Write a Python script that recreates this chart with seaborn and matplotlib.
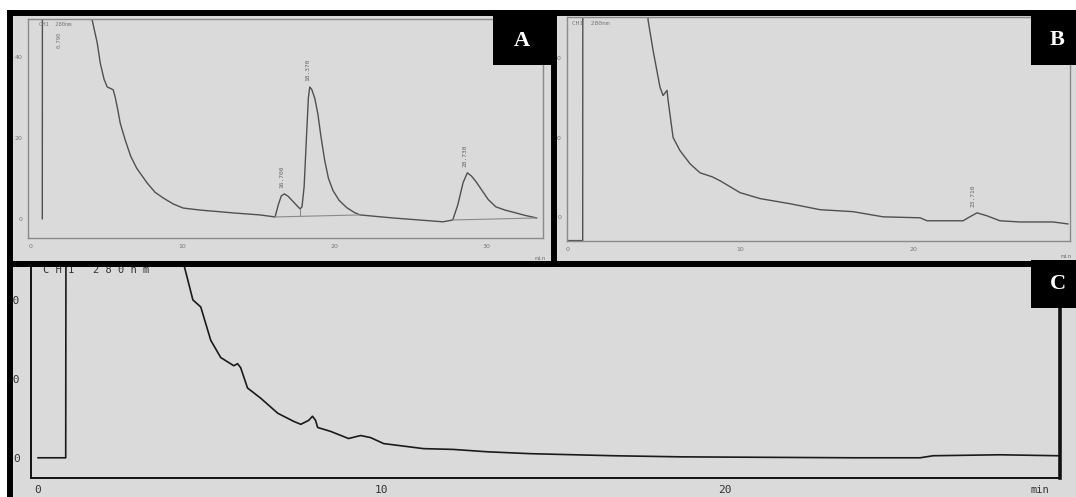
import matplotlib
matplotlib.use("Agg")
import matplotlib.pyplot as plt
from matplotlib.patches import Rectangle
from matplotlib.lines import Line2D
import seaborn as sns

# ---- chromatogram traces (time in min, detector signal) ----
a_time = [0.79, 0.80, 3.9, 4.07, 4.40, 4.60, 4.85, 5.06, 5.30, 5.45, 5.58, 5.75, 5.91,
          6.24, 6.60, 7.00, 7.68, 8.20, 8.73, 9.40, 10.05, 11.16, 13.33, 15.10,
          16.09, 16.30, 16.50, 16.70, 16.95, 17.30, 17.60, 17.73,
          17.86, 18.00, 18.15, 18.28, 18.37, 18.50, 18.70, 18.90, 19.10, 19.35, 19.60,
          19.90, 20.30, 20.80, 21.30, 21.67, 23.83, 27.12,
          27.77, 28.10, 28.45, 28.73, 29.00, 29.30, 29.70, 30.10, 30.60, 31.20, 31.71,
          32.50, 33.29]
a_signal = [0.0, 80.0, 80.0, 49.1, 43.5, 38.5, 34.5, 32.6, 32.2, 31.9, 30.1, 27.0, 23.7,
            19.5, 15.5, 12.5, 8.9, 6.6, 5.2, 3.7, 2.7, 2.2, 1.5, 1.0,
            0.5, 3.5, 5.7, 6.2, 5.6, 4.2, 3.0, 2.5,
            3.0, 8.0, 20.0, 30.0, 32.6, 32.0, 29.8, 26.0, 20.5, 14.5, 10.0,
            7.0, 4.6, 2.8, 1.6, 1.0, 0.25, -0.7,
            -0.25, 3.5, 9.0, 11.4, 10.6, 9.2, 7.0, 4.8, 3.0, 2.2, 1.7,
            0.9, 0.25]
# integration baselines drawn under the resolved peaks
a_base1_time = [16.09, 21.67]
a_base1_signal = [0.5, 1.0]
a_base2_time = [27.77, 33.29]
a_base2_signal = [-0.25, 0.25]
a_drop_time = [17.73, 17.73]
a_drop_signal = [2.5, 0.7]
a_peak_times = [16.70, 18.37, 28.73]
a_peak_heights = [6.2, 32.6, 11.4]
a_solvent_time = 0.79

b_time = [0.0, 0.85, 0.86, 4.5, 4.64, 4.93, 5.33, 5.51, 5.74, 5.80, 6.09, 6.49, 7.07,
          7.65, 8.35, 8.81, 9.97, 11.13, 12.87, 14.61, 16.52, 18.26, 20.41, 20.81,
          22.90, 23.19, 23.71, 24.29, 25.04, 26.20, 28.12, 28.99]
b_signal = [-6.0, -6.0, 80.0, 80.0, 49.6, 42.0, 32.7, 30.6, 31.9, 29.4, 20.0, 16.7, 13.4,
            11.1, 10.1, 9.1, 6.1, 4.6, 3.3, 1.8, 1.3, 0.0, -0.25, -1.0,
            -1.0, -0.25, 1.0, 0.25, -1.0, -1.3, -1.3, -1.8]
b_peak_times = [23.71]
b_peak_heights = [1.0]

c_time = [0.0, 0.81, 0.82, 4.1, 4.24, 4.51, 4.74, 5.03, 5.32, 5.70, 5.81, 5.90, 6.10,
          6.48, 6.98, 7.44, 7.65, 7.88, 7.99, 8.08, 8.14, 8.52, 9.04, 9.39, 9.68,
          10.06, 11.22, 12.09, 13.08, 14.33, 16.74, 18.69, 23.72, 25.67, 26.05,
          27.99, 29.68]
c_signal = [0.0, 0.0, 200.0, 200.0, 123.0, 100.0, 95.5, 74.4, 63.5, 58.3, 59.6, 57.1, 44.2,
            37.8, 28.2, 23.1, 21.2, 23.7, 26.3, 23.7, 19.2, 16.7, 12.2, 14.1, 12.8,
            9.0, 5.8, 5.3, 3.8, 2.6, 1.3, 0.6, 0.0, 0.0, 1.3,
            1.9, 1.3]

ab_xticks = [0, 10, 20, 30]
ab_yticks = [0, 20, 40]
c_xticks = [0, 10, 20]
c_yticks = [0, 50, 100]
channel_label = "CH1  280nm"
channel_label_wide = "C H 1   2 8 0 n m"
panel_letters = ["A", "B", "C"]

# ---- figure in pixel units ----
W, H = 1076, 497
sns.set_theme(style="white")
plt.rcParams["font.family"] = ["DejaVu Sans"]
fig = plt.figure(figsize=(W / 100, H / 100), dpi=100, facecolor="white")


def frac(l, t, r, b):
    return [l / W, 1 - b / H, (r - l) / W, (b - t) / H]


def fx(x):
    return x / W


def fy(y):
    return 1 - y / H


PAPER = "#dadada"
fig.add_artist(Rectangle((fx(7), fy(497)), fx(1076 - 7), fy(10) - fy(497),
                         transform=fig.transFigure, facecolor=PAPER,
                         edgecolor="none", zorder=-10))

mono = ["DejaVu Sans Mono"]


def style_small(ax, xt, yt, xlim, ylim):
    ax.set_facecolor("none")
    ax.set_xlim(*xlim)
    ax.set_ylim(*ylim)
    ax.set_xticks(xt)
    ax.set_yticks(yt)
    ax.tick_params(axis="both", length=2, width=0.6, colors="#777777",
                   labelsize=4.5, labelcolor="#777777", pad=2)
    for s in ax.spines.values():
        s.set_visible(True)
        s.set_color("#8a8a8a")
        s.set_linewidth(1.0)
    ax.set_xlabel("")
    ax.set_ylabel("")


# ---- panel A ----
axA = fig.add_axes(frac(28, 19, 543, 238))
sns.lineplot(x=a_time, y=a_signal, ax=axA, color="#505050", lw=1.0,
             sort=False, estimator=None)
style_small(axA, ab_xticks, ab_yticks, (-0.15, 33.7), (-4.7, 49.4))
for bt, bs in [(a_base1_time, a_base1_signal), (a_base2_time, a_base2_signal),
               (a_drop_time, a_drop_signal)]:
    sns.lineplot(x=bt, y=bs, ax=axA, color="#8a8a8a", lw=0.8, sort=False, estimator=None)
for t, h in zip(a_peak_times, a_peak_heights):
    axA.text(t - 0.15, h + 1.5, f"{t:.3f}", rotation=90, ha="center", va="bottom",
             fontsize=4.5, color="#666666", family=mono)
axA.text(a_solvent_time + 1.1, 46.3, f"{a_solvent_time:.3f}", rotation=90,
         ha="center", va="top", fontsize=4, color="#777777", family=mono)
axA.text(0.6, 48.6, channel_label, ha="left", va="top", fontsize=4,
         color="#777777", family=mono)
fig.text(fx(540), fy(258), "min", fontsize=4.5, color="#777777", ha="center",
         va="center", family=mono)

# ---- panel B ----
axB = fig.add_axes(frac(567, 17, 1070, 241))
sns.lineplot(x=b_time, y=b_signal, ax=axB, color="#505050", lw=1.0,
             sort=False, estimator=None)
style_small(axB, ab_xticks[:3], ab_yticks, (-0.06, 29.1), (-6.1, 50.4))
for t, h in zip(b_peak_times, b_peak_heights):
    axB.text(t - 0.25, h + 1.5, f"{t:.3f}", rotation=90, ha="center", va="bottom",
             fontsize=4.5, color="#666666", family=mono)
axB.text(0.25, 49.3, channel_label, ha="left", va="top", fontsize=4.5,
         color="#777777", family=mono)
fig.text(fx(1066), fy(257), "min", fontsize=4.5, color="#777777", ha="center",
         va="center", family=mono)

# ---- panel C ----
axC = fig.add_axes(frac(31, 262, 1060, 478))
sns.lineplot(x=c_time, y=c_signal, ax=axC, color="#1a1a1a", lw=1.2,
             sort=False, estimator=None)
axC.set_facecolor("none")
axC.set_xlim(-0.2, 29.74)
axC.set_ylim(-12.8, 124)
axC.set_xticks(c_xticks)
axC.set_yticks(c_yticks)
axC.tick_params(axis="x", length=3, width=1.0, colors="#222222",
                labelsize=8, labelcolor="#333333", pad=2)
axC.tick_params(axis="y", length=2.5, width=1.0, colors="#222222",
                labelsize=8, labelcolor="#333333", pad=5.5)
for lab in axC.get_xticklabels() + axC.get_yticklabels():
    lab.set_family(mono)
for name, s in axC.spines.items():
    s.set_visible(True)
    s.set_color("#111111")
    s.set_linewidth(1.4)
axC.spines["right"].set_linewidth(2.6)
axC.spines["top"].set_visible(False)
axC.set_xlabel("")
axC.set_ylabel("")
fig.text(fx(43), fy(270), channel_label_wide, ha="left", va="center", fontsize=7.5,
         color="#333333", family=mono, zorder=5)
fig.text(fx(1040), fy(490), "min", fontsize=7.5, color="#333333", ha="center",
         va="center", family=mono)

# ---- panel frames ----
BW = 4.3  # points, about 6 px


def hline(x0, x1, y):
    fig.add_artist(Line2D([fx(x0), fx(x1)], [fy(y), fy(y)], transform=fig.transFigure,
                          color="black", lw=BW, solid_capstyle="projecting", zorder=20))


def vline(x, y0, y1):
    fig.add_artist(Line2D([fx(x), fx(x)], [fy(y0), fy(y1)], transform=fig.transFigure,
                          color="black", lw=BW, solid_capstyle="projecting", zorder=20))


# white margin on the far left, over any overhanging tick text
fig.add_artist(Rectangle((0, 0), fx(7), 1, transform=fig.transFigure,
                         facecolor="white", edgecolor="none", zorder=19))
hline(10, 1076, 13)
hline(10, 1076, 263.5)
vline(10, 13, 497)
vline(554, 13, 263.5)


def letter_box(x0, y0, x1, y1, letter, cx, cy):
    fig.add_artist(Rectangle((fx(x0), fy(y1)), fx(x1 - x0), fy(y0) - fy(y1),
                             transform=fig.transFigure, facecolor="black",
                             edgecolor="none", zorder=21))
    fig.text(fx(cx), fy(cy), letter, ha="center", va="center", fontsize=16,
             fontweight="bold", color="white", family=["Liberation Serif"], zorder=22)


letter_box(493, 10, 552, 65, panel_letters[0], 522, 41)
letter_box(1031, 10, 1076, 65, panel_letters[1], 1057, 40)
letter_box(1031, 260, 1076, 308, panel_letters[2], 1058, 284)

fig.savefig("out.png", dpi=100, facecolor="white")
